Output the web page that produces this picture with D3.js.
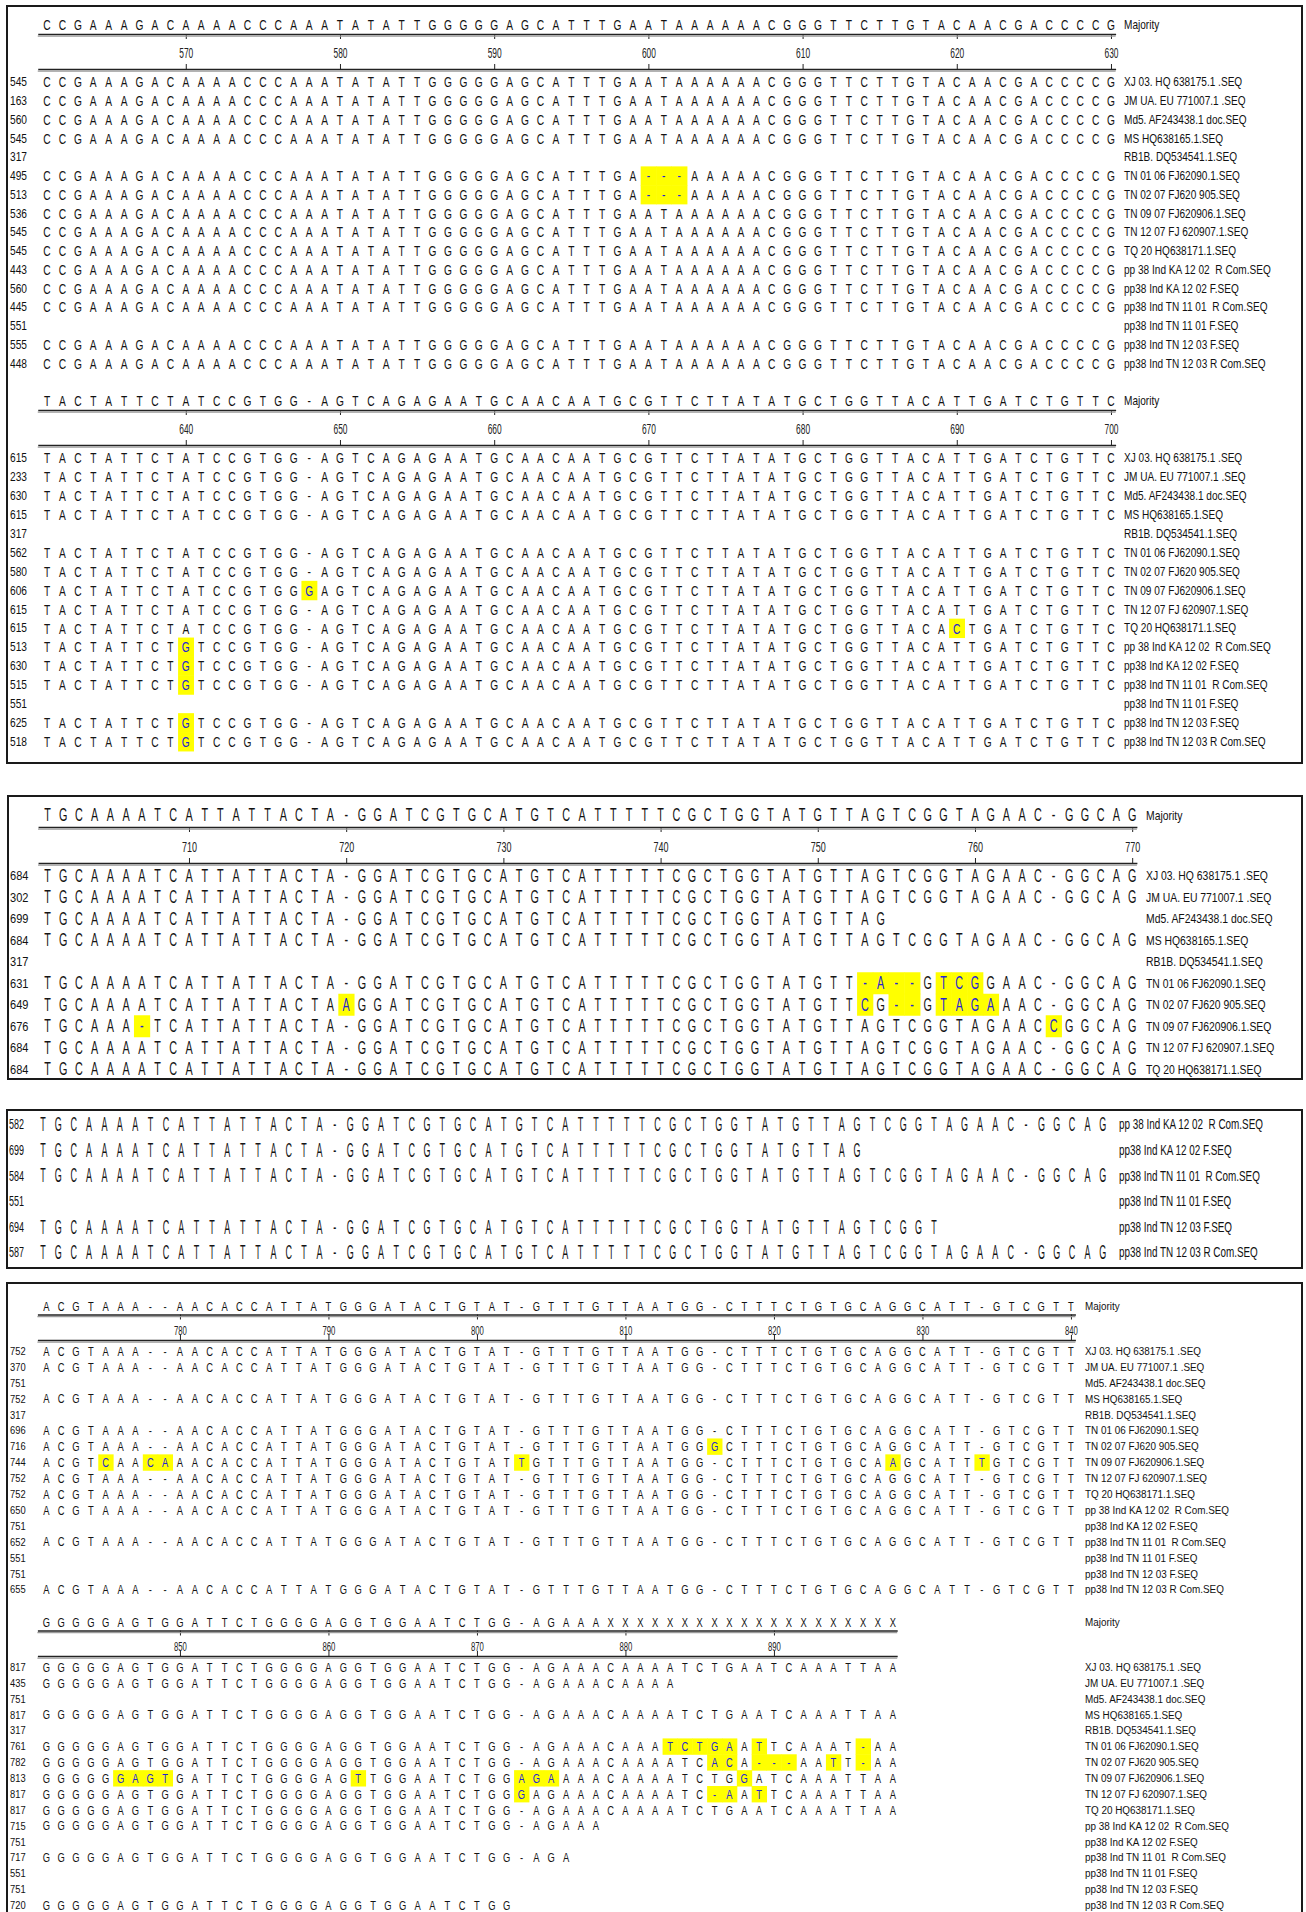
<!DOCTYPE html>
<html lang="en">
<head>
<meta charset="UTF-8">
<title>pp38 alignment</title>
<script src="https://cdn.jsdelivr.net/npm/d3@7"></script>
<style>
  body { margin: 0; background: #fff; }
  svg text { font-family: "Liberation Sans", Arial, sans-serif; fill: #111; white-space: pre; }
  .hl { fill: #ffff00; }
</style>
</head>
<body>
<script>
// sequence names, same order in every block
var seqNames = [
  "XJ 03. HQ 638175.1 .SEQ", "JM UA. EU 771007.1 .SEQ", "Md5. AF243438.1 doc.SEQ",
  "MS HQ638165.1.SEQ", "RB1B. DQ534541.1.SEQ", "TN 01 06 FJ62090.1.SEQ",
  "TN 02 07 FJ620 905.SEQ", "TN 09 07 FJ620906.1.SEQ", "TN 12 07 FJ 620907.1.SEQ",
  "TQ 20 HQ638171.1.SEQ", "pp 38 Ind KA 12 02  R Com.SEQ", "pp38 Ind KA 12 02 F.SEQ",
  "pp38 Ind TN 11 01  R Com.SEQ", "pp38 Ind TN 11 01 F.SEQ", "pp38 Ind TN 12 03 F.SEQ",
  "pp38 Ind TN 12 03 R Com.SEQ"
];

// ---- 561-630
var ticks1a = [570, 580, 590, 600, 610, 620, 630];
var maj1a = "CCGAAAGACAAAACCCAAATATATTGGGGGAGCATTTGAATAAAAAACGGGTTCTTGTACAACGACCCCG";
var gap1a = "CCGAAAGACAAAACCCAAATATATTGGGGGAGCATTTGA---AAAAACGGGTTCTTGTACAACGACCCCG";
var nums1a = [545, 163, 560, 545, 317, 495, 513, 536, 545, 545, 443, 560, 445, 551, 555, 448];
var seqs1a = [maj1a, maj1a, maj1a, maj1a, "", gap1a, gap1a, maj1a, maj1a, maj1a, maj1a, maj1a, maj1a, "", maj1a, maj1a];
var hl1a = [[5, 39], [5, 40], [5, 41], [6, 39], [6, 40], [6, 41]];

// ---- 631-700
var ticks1b = [640, 650, 660, 670, 680, 690, 700];
var maj1b = "TACTATTCTATCCGTGG-AGTCAGAGAATGCAACAATGCGTTCTTATATGCTGGTTACATTGATCTGTTC";
var tn0907_1b = "TACTATTCTATCCGTGGGAGTCAGAGAATGCAACAATGCGTTCTTATATGCTGGTTACATTGATCTGTTC";
var tq20_1b = "TACTATTCTATCCGTGG-AGTCAGAGAATGCAACAATGCGTTCTTATATGCTGGTTACACTGATCTGTTC";
var pp38_1b = "TACTATTCTGTCCGTGG-AGTCAGAGAATGCAACAATGCGTTCTTATATGCTGGTTACATTGATCTGTTC";
var nums1b = [615, 233, 630, 615, 317, 562, 580, 606, 615, 615, 513, 630, 515, 551, 625, 518];
var seqs1b = [maj1b, maj1b, maj1b, maj1b, "", maj1b, maj1b, tn0907_1b, maj1b, tq20_1b, pp38_1b, pp38_1b, pp38_1b, "", pp38_1b, pp38_1b];
var hl1b = [[7, 17], [9, 59], [10, 9], [11, 9], [12, 9], [14, 9], [15, 9]];

// ---- 701-770 (first ten sequences)
var ticks2 = [710, 720, 730, 740, 750, 760, 770];
var maj2 = "TGCAAAATCATTATTACTA-GGATCGTGCATGTCATTTTTCGCTGGTATGTTAGTCGGTAGAAC-GGCAG";
var md5_2 = "TGCAAAATCATTATTACTA-GGATCGTGCATGTCATTTTTCGCTGGTATGTTAG";
var tn0106_2 = "TGCAAAATCATTATTACTA-GGATCGTGCATGTCATTTTTCGCTGGTATGTT-A--GTCGGAAC-GGCAG";
var tn0207_2 = "TGCAAAATCATTATTACTAAGGATCGTGCATGTCATTTTTCGCTGGTATGTTCG--GTAGAAAC-GGCAG";
var tn0907_2 = "TGCAAA-TCATTATTACTA-GGATCGTGCATGTCATTTTTCGCTGGTATGTTAGTCGGTAGAACCGGCAG";
var nums2 = [684, 302, 699, 684, 317, 631, 649, 676, 684, 684];
var seqs2 = [maj2, maj2, md5_2, maj2, "", tn0106_2, tn0207_2, tn0907_2, maj2, maj2];
var hl2 = [[5, 52], [5, 53], [5, 54], [5, 55], [5, 57], [5, 58], [5, 59],
           [6, 19], [6, 52], [6, 54], [6, 55], [6, 57], [6, 58], [6, 59], [6, 60],
           [7, 6], [7, 64]];

// ---- 701-770 (last six sequences)
var ka1202f_3 = "TGCAAAATCATTATTACTA-GGATCGTGCATGTCATTTTTCGCTGGTATGTTAG";
var tn1203f_3 = "TGCAAAATCATTATTACTA-GGATCGTGCATGTCATTTTTCGCTGGTATGTTAGTCGGT";
var nums3 = [582, 699, 584, 551, 694, 587];
var seqs3 = [maj2, ka1202f_3, maj2, "", tn1203f_3, maj2];

// ---- 771-840
var ticks4a = [780, 790, 800, 810, 820, 830, 840];
var maj4a = "ACGTAAA--AACACCATTATGGGATACTGTAT-GTTTGTTAATGG-CTTTCTGTGCAGGCATT-GTCGTT";
var tn0207_4a = "ACGTAAA--AACACCATTATGGGATACTGTAT-GTTTGTTAATGGGCTTTCTGTGCAGGCATT-GTCGTT";
var tn0907_4a = "ACGTCAACAAACACCATTATGGGATACTGTATTGTTTGTTAATGG-CTTTCTGTGCAAGCATTTGTCGTT";
var nums4a = [752, 370, 751, 752, 317, 696, 716, 744, 752, 752, 650, 751, 652, 551, 751, 655];
var seqs4a = [maj4a, maj4a, "", maj4a, "", maj4a, tn0207_4a, tn0907_4a, maj4a, maj4a, maj4a, "", maj4a, "", "", maj4a];
var hl4a = [[6, 45], [7, 4], [7, 7], [7, 8], [7, 32], [7, 57], [7, 63]];

// ---- 841-898
var ticks4b = [850, 860, 870, 880, 890];
var maj4b = "GGGGGAGTGGATTCTGGGGAGGTGGAATCTGG-AGAAAXXXXXXXXXXXXXXXXXXXX";
var full4b = "GGGGGAGTGGATTCTGGGGAGGTGGAATCTGG-AGAAACAAAATCTGAATCAAATTAA";
var jm_4b = "GGGGGAGTGGATTCTGGGGAGGTGGAATCTGG-AGAAACAAAA";
var tn0106_4b = "GGGGGAGTGGATTCTGGGGAGGTGGAATCTGG-AGAAACAAATCTGAATTCAAAT-AA";
var tn0207_4b = "GGGGGAGTGGATTCTGGGGAGGTGGAATCTGG-AGAAACAAAATCACA---AATT-AA";
var tn0907_4b = "GGGGGGAGTGATTCTGGGGAGTTGGAATCTGGAGAAAACAAAATCTGGATCAAATTAA";
var tn1207_4b = "GGGGGAGTGGATTCTGGGGAGGTGGAATCTGGGAGAAACAAAATC-AATTCAAATTAA";
var ka1202r_4b = "GGGGGAGTGGATTCTGGGGAGGTGGAATCTGG-AGAAA";
var tn1101r_4b = "GGGGGAGTGGATTCTGGGGAGGTGGAATCTGG-AGA";
var tn1203r_4b = "GGGGGAGTGGATTCTGGGGAGGTGGAATCTGG";
var nums4b = [817, 435, 751, 817, 317, 761, 782, 813, 817, 817, 715, 751, 717, 551, 751, 720];
var seqs4b = [full4b, jm_4b, "", full4b, "", tn0106_4b, tn0207_4b, tn0907_4b, tn1207_4b, full4b,
              ka1202r_4b, "", tn1101r_4b, "", "", tn1203r_4b];
var hl4b = [[5, 42], [5, 43], [5, 44], [5, 45], [5, 46], [5, 48], [5, 55],
            [6, 45], [6, 46], [6, 48], [6, 49], [6, 50], [6, 53], [6, 55],
            [7, 5], [7, 6], [7, 7], [7, 8], [7, 21], [7, 32], [7, 33], [7, 34], [7, 47],
            [8, 32], [8, 45], [8, 46], [8, 48]];

var svg = d3.select("body").append("svg")
    .attr("width", 1306)
    .attr("height", 1912);

svg.append("rect").attr("width", 1306).attr("height", 1912).attr("fill", "#fff");

// panel frames
var frames = [[7, 6, 1302, 763], [8, 796, 1302, 1079], [7, 1110, 1302, 1268], [7, 1283, 1302, 1916]];
svg.selectAll("rect.frame").data(frames).join("rect")
    .attr("class", "frame")
    .attr("x", d => d[0]).attr("y", d => d[1])
    .attr("width", d => d[2] - d[0]).attr("height", d => d[3] - d[1])
    .attr("fill", "none").attr("stroke", "#1a1a1a").attr("stroke-width", 2);

function squeeze(sel, size, sx, fx, fy) {
    sel.attr("font-size", size)
        .attr("transform", (d, i) => "translate(" + fx(d, i) + "," + fy(d, i) + ") scale(" + sx + ",1)");
}

function drawBlock(p) {
    var x = d3.scaleLinear().domain([p.start, p.start + 1]).range([p.x0, p.x0 + p.col]);
    var y = d3.scaleLinear().domain([0, 1]).range([p.y0, p.y0 + p.dy]);
    var cap = p.font * 0.36;
    var labCap = p.labFont * 0.36;
    var g = svg.append("g");

    var hlKeys = new Set(p.hl.map(d => d[0] + "," + d[1]));

    g.selectAll("rect.hl").data(p.hl).join("rect")
        .attr("class", "hl")
        .attr("x", d => x(p.start + d[1]) - p.col / 2)
        .attr("y", d => y(d[0]) - p.dy / 2)
        .attr("width", p.col + 0.5)
        .attr("height", p.dy + 0.5);

    var cells = [];
    p.seqs.forEach((s, r) => s.split("").forEach((ch, i) => cells.push({ r: r, i: i, ch: ch })));

    g.selectAll("text.nt").data(cells).join("text")
        .attr("class", "nt")
        .attr("text-anchor", "middle")
        .style("fill", d => hlKeys.has(d.r + "," + d.i) ? "#2323d8" : "#151515")
        .text(d => d.ch)
        .call(squeeze, p.font, p.sx, d => x(p.start + d.i), d => y(d.r) + cap);

    // row numbers and names
    g.selectAll("text.num").data(p.nums).join("text")
        .attr("class", "num")
        .text(d => d)
        .call(squeeze, p.labFont, p.numSx, () => p.numX, (d, i) => y(i) + labCap);

    g.selectAll("text.name").data(p.names).join("text")
        .attr("class", "name")
        .text(d => d)
        .call(squeeze, p.labFont, p.labSx, () => p.labelX, (d, i) => y(i) + labCap);

    if (!p.majority) return;

    var my = p.y0 + p.majOff;
    g.selectAll("text.maj").data(p.majority.split("")).join("text")
        .attr("class", "maj")
        .attr("text-anchor", "middle")
        .text(d => d)
        .call(squeeze, p.font, p.sx, (d, i) => x(p.start + i), () => my + cap);

    g.append("text").text("Majority")
        .call(squeeze, p.labFont, p.labSx, () => p.labelX, () => my + labCap);

    var end = p.start + p.majority.length - 1;
    var xa = x.copy().domain([p.start - 0.6, end + 0.3]).range([x(p.start - 0.6), x(end + 0.3)]);

    var top = g.append("g")
        .attr("transform", "translate(0," + (p.y0 + p.ruleTop) + ")")
        .call(d3.axisBottom(xa).tickValues(p.ticks).tickSize(5).tickSizeOuter(0).tickPadding(p.tickPad));
    top.selectAll("text")
        .attr("font-family", null).attr("font-size", p.tickFont)
        .style("fill", "#222")
        .attr("transform", "scale(" + p.tickSx + ",1)");

    var bot = g.append("g")
        .attr("transform", "translate(0," + (p.y0 + p.ruleBot) + ")")
        .call(d3.axisTop(xa).tickValues(p.ticks).tickSize(5).tickSizeOuter(0).tickFormat(""));

    [top, bot].forEach(a => {
        a.select(".domain").attr("stroke", "#222").attr("stroke-width", 1.6);
        a.selectAll(".tick line").attr("stroke", "#222");
        a.append("line")
            .attr("x1", xa.range()[0]).attr("x2", xa.range()[1])
            .attr("y1", 2.2).attr("y2", 2.2)
            .attr("stroke", "#9a9a9a").attr("stroke-width", 1.2);
    });
}

var p1 = { x0: 47, col: 15.42, font: 15, sx: 0.68, labFont: 12, labSx: 0.84, numSx: 0.85, numX: 10,
           labelX: 1124, majOff: -57, ruleTop: -48, ruleBot: -13, tickPad: 9, tickFont: 14, tickSx: 0.6 };

drawBlock(Object.assign({}, p1, { start: 561, y0: 82, dy: 18.75, majority: maj1a, ticks: ticks1a,
    seqs: seqs1a, nums: nums1a, names: seqNames, hl: hl1a }));
drawBlock(Object.assign({}, p1, { start: 631, y0: 458, dy: 18.9, majority: maj1b, ticks: ticks1b,
    seqs: seqs1b, nums: nums1b, names: seqNames, hl: hl1b }));

drawBlock({ start: 701, x0: 47.5, col: 15.72, y0: 875.5, dy: 21.5, font: 18, sx: 0.6,
    labFont: 13, labSx: 0.8, numSx: 0.85, numX: 10, labelX: 1146,
    majOff: -60.5, ruleTop: -48.5, ruleBot: -12.5, tickPad: 9, tickFont: 15, tickSx: 0.6,
    majority: maj2, ticks: ticks2, seqs: seqs2, nums: nums2, names: seqNames.slice(0, 10), hl: hl2 });

drawBlock({ start: 701, x0: 43, col: 15.36, y0: 1124, dy: 25.6, font: 20, sx: 0.45,
    labFont: 15, labSx: 0.66, numSx: 0.6, numX: 9, labelX: 1119,
    majority: null, seqs: seqs3, nums: nums3, names: seqNames.slice(10), hl: [] });

var p4 = { x0: 46.3, col: 14.85, font: 13, sx: 0.72, labFont: 11, labSx: 0.9, numSx: 0.85, numX: 10,
           labelX: 1085, majOff: -45, ruleTop: -36.5, ruleBot: -11, tickPad: 7, tickFont: 12.5, tickSx: 0.62 };

drawBlock(Object.assign({}, p4, { start: 771, y0: 1351, dy: 15.9, majority: maj4a, ticks: ticks4a,
    seqs: seqs4a, nums: nums4a, names: seqNames, hl: hl4a }));
drawBlock(Object.assign({}, p4, { start: 841, y0: 1667, dy: 15.87, majority: maj4b, ticks: ticks4b,
    seqs: seqs4b, nums: nums4b, names: seqNames, hl: hl4b }));
</script>
</body>
</html>
